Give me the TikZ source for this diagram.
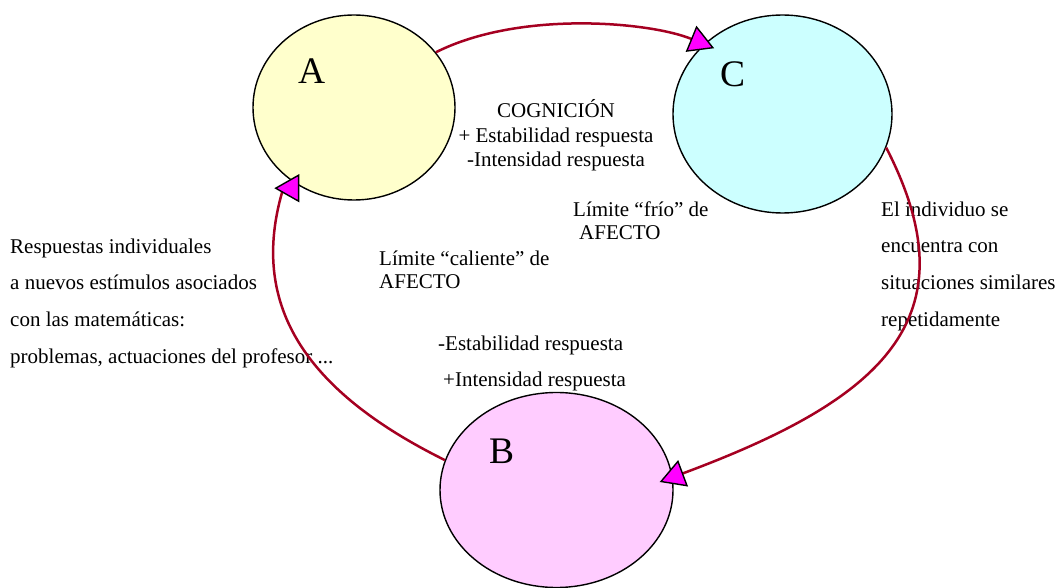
\documentclass[tikz,border=0pt]{standalone}
\usepackage{fontspec}
\setmainfont{Liberation Serif}
\usetikzlibrary{shapes.geometric,arrows.meta}
\definecolor{loopred}{HTML}{A50021}
\definecolor{fillA}{HTML}{FFFFCC}
\definecolor{fillB}{HTML}{FFCCFF}
\definecolor{fillC}{HTML}{CCFFFF}
\definecolor{tipfill}{HTML}{FF00FF}

\begin{document}
\begin{tikzpicture}[x=1pt,y=-1pt,
  stage/.style={ellipse, draw=black, line width=1.4pt, inner sep=0pt},
  letter/.style={anchor=base west, inner sep=0pt, font=\fontsize{37.5}{40}\selectfont},
  % multi-line blocks are placed by the baseline of their last line
  txt/.style={anchor=base west, inner sep=0pt, align=left, font=\fontsize{21}{36.6}\selectfont},
  link/.style={draw=loopred, line width=2.5pt,
    -{Triangle[length=25pt, width=28pt, line width=1.4pt, color=black, fill=tipfill]}},
]
\useasboundingbox (0,0) rectangle (1058,588);

% the three stages of the cycle
\node[stage, fill=fillA, minimum width=202pt, minimum height=185pt] (A) at (354,107.5) {};
\node[stage, fill=fillC, minimum width=219pt, minimum height=198pt] (C) at (782.5,114) {};
\node[stage, fill=fillB, minimum width=233pt, minimum height=195pt] (B) at (556.5,490) {};

\node[letter] (la) at (298,84) {A};
\node[letter] (lc) at (720,87) {C};
\node[letter] (lb) at (489,463) {B};

% annotations
\node[txt, align=center, anchor=base, font=\fontsize{21}{24.5}\selectfont] (cog) at (556,167)
  {COGNICIÓN\\+ Estabilidad respuesta\\-Intensidad respuesta};
\node[txt, font=\fontsize{21}{23}\selectfont] (cold) at (573,240)
  {Límite “frío” de\\\hspace*{6pt}AFECTO};
\node[txt, font=\fontsize{21}{24}\selectfont] (hot) at (379,289)
  {Límite “caliente” de\\AFECTO};
\node[txt, font=\fontsize{21}{36}\selectfont] (hotresp) at (438,386)
  {-Estabilidad respuesta\\\hspace*{5pt}+Intensidad respuesta};
\node[txt] (stimuli) at (10,363)
  {Respuestas individuales\\a nuevos estímulos asociados\\con las matemáticas:\\problemas, actuaciones del profesor ...};
\node[txt] (repeat) at (881,326)
  {El individuo se\\encuentra con\\situaciones similares\\repetidamente};

% cycle A -> C -> B -> A
\draw[link] (A.34) .. controls (520,10) and (650,22) .. ([shift={(7,7)}]C.136);
\draw[link] (C.342) .. controls (975,320) and (880,400) .. ([shift={(-14,-8)}]B.east);
% the head on A points left, so the arc ends with a short leftward step
\draw[link] (B.165) .. controls (293,385) and (251,295) .. ([shift={(-2,12)}]A.225)
  -- ([shift={(-11,12)}]A.225);
\end{tikzpicture}
\end{document}
